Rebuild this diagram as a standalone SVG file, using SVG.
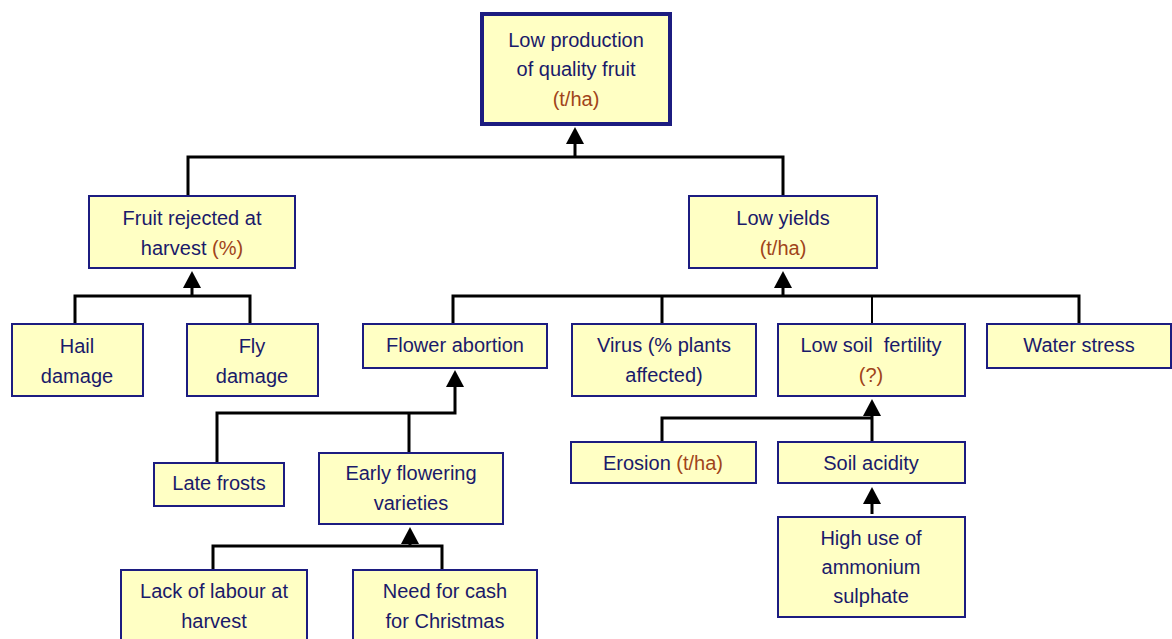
<svg xmlns="http://www.w3.org/2000/svg" xmlns:xlink="http://www.w3.org/1999/xlink" width="1172" height="639" viewBox="0 0 1172 639">
<style>
.box{fill:#ffffc4;stroke:#1c1c80;stroke-width:2}
.main{fill:#ffffc4;stroke:#1c1c80;stroke-width:4}
.t{font-family:"Liberation Sans",Arial,sans-serif;font-size:20px;fill:#1a1a6a;text-anchor:middle}
.u{fill:#a0441a}
.c{fill:none;stroke:#000;stroke-width:3}
.thin{fill:none;stroke:#000;stroke-width:2}
</style>
<defs>
<path id="ah" d="M0,0 L-9,17 L9,17 Z" fill="#000"/>
</defs>
<rect width="1172" height="639" fill="#fff"/>
<g id="connectors">
<path class="c" d="M188 195 V157 H783 V195"/>
<path class="c" d="M575 157 V140"/>
<use xlink:href="#ah" x="575" y="127"/>
<path class="c" d="M75 323 V296 H250 V323"/>
<path class="c" d="M192 296 V285"/>
<use xlink:href="#ah" x="192" y="271"/>
<path class="c" d="M453 323 V296 H1079 V323"/>
<path class="c" d="M662 296 V323"/>
<path class="thin" d="M872 296 V323"/>
<path class="c" d="M783 296 V285"/>
<use xlink:href="#ah" x="783" y="271"/>
<path class="c" d="M217 462 V413 H455 V384"/>
<path class="c" d="M409 413 V452"/>
<use xlink:href="#ah" x="455" y="370"/>
<path class="c" d="M213 569 V546 H442 V569"/>
<path class="c" d="M410 546 V540"/>
<use xlink:href="#ah" x="410" y="527"/>
<path class="c" d="M662 441 V418 H872"/>
<path class="c" d="M872 441 V412"/>
<use xlink:href="#ah" x="872" y="399"/>
<path class="c" d="M872 514 V500"/>
<use xlink:href="#ah" x="872" y="487"/>
</g>
<g id="n-top">
<rect class="main" x="482" y="14" width="188" height="110"/>
<text class="t" x="576" y="47">Low production</text>
<text class="t" x="576" y="76">of quality fruit</text>
<text class="t u" x="576" y="106">(t/ha)</text>
</g>
<g id="n-rejected">
<rect class="box" x="89" y="196" width="206" height="72"/>
<text class="t" x="192" y="225">Fruit rejected at</text>
<text class="t" x="192" y="255">harvest <tspan class="u">(%)</tspan></text>
</g>
<g id="n-yields">
<rect class="box" x="689" y="196" width="188" height="72"/>
<text class="t" x="783" y="225">Low yields</text>
<text class="t u" x="783" y="255">(t/ha)</text>
</g>
<g id="n-hail">
<rect class="box" x="12" y="324" width="131" height="72"/>
<text class="t" x="77" y="353">Hail</text>
<text class="t" x="77" y="383">damage</text>
</g>
<g id="n-fly">
<rect class="box" x="187" y="324" width="131" height="72"/>
<text class="t" x="252" y="353">Fly</text>
<text class="t" x="252" y="383">damage</text>
</g>
<g id="n-flower">
<rect class="box" x="363" y="324" width="184" height="44"/>
<text class="t" x="455" y="352">Flower abortion</text>
</g>
<g id="n-virus">
<rect class="box" x="572" y="324" width="184" height="72"/>
<text class="t" x="664" y="352">Virus (% plants</text>
<text class="t" x="664" y="382">affected)</text>
</g>
<g id="n-soil">
<rect class="box" x="778" y="324" width="187" height="72"/>
<text class="t" x="871" y="352">Low soil&#160; fertility</text>
<text class="t u" x="871" y="382">(?)</text>
</g>
<g id="n-water">
<rect class="box" x="987" y="324" width="184" height="44"/>
<text class="t" x="1079" y="352">Water stress</text>
</g>
<g id="n-frosts">
<rect class="box" x="154" y="463" width="130" height="43"/>
<text class="t" x="219" y="490">Late frosts</text>
</g>
<g id="n-early">
<rect class="box" x="319" y="453" width="184" height="71"/>
<text class="t" x="411" y="480">Early flowering</text>
<text class="t" x="411" y="510">varieties</text>
</g>
<g id="n-erosion">
<rect class="box" x="571" y="442" width="185" height="41"/>
<text class="t" x="663" y="470">Erosion <tspan class="u">(t/ha)</tspan></text>
</g>
<g id="n-acidity">
<rect class="box" x="778" y="442" width="187" height="41"/>
<text class="t" x="871" y="470">Soil acidity</text>
</g>
<g id="n-ammonium">
<rect class="box" x="778" y="517" width="187" height="100"/>
<text class="t" x="871" y="545">High use of</text>
<text class="t" x="871" y="574">ammonium</text>
<text class="t" x="871" y="603">sulphate</text>
</g>
<g id="n-labour">
<rect class="box" x="121" y="570" width="186" height="80"/>
<text class="t" x="214" y="598">Lack of labour at</text>
<text class="t" x="214" y="628">harvest</text>
</g>
<g id="n-cash">
<rect class="box" x="353" y="570" width="184" height="80"/>
<text class="t" x="445" y="598">Need for cash</text>
<text class="t" x="445" y="628">for Christmas</text>
</g>
</svg>
